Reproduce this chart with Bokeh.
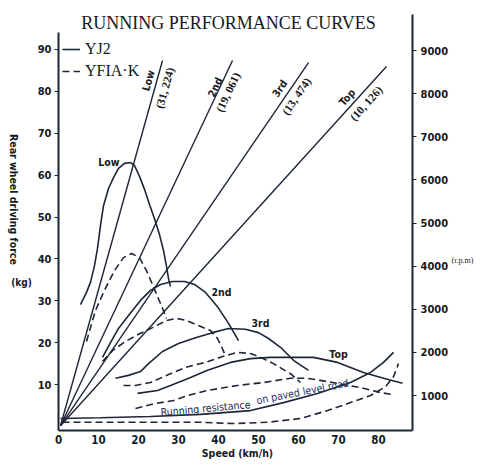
from bokeh.plotting import figure
from bokeh.models import Range1d, LinearAxis, FixedTicker, Label, Legend, LegendItem
from bokeh.embed import file_html
from bokeh.resources import INLINE

# ---------------- data (speed km/h, rear wheel driving force kg) ----------------
yj2_low_speed = [5.5, 7.0, 8.0, 9.0, 9.75, 10.5, 11.25, 12.5, 13.75, 15.0, 16.5, 18.0, 19.0,
                 20.25, 21.5, 22.75, 24.0, 25.25, 26.25, 27.0, 27.5, 28.0]
yj2_low_force = [29.1, 32.0, 34.4, 38.4, 42.5, 48.0, 52.7, 56.8, 59.4, 61.6, 62.8, 63.0, 62.3,
                 59.7, 56.6, 53.0, 49.6, 45.8, 42.0, 38.2, 35.3, 33.4]

yj2_2nd_speed = [11.0, 13.0, 15.0, 17.5, 20.5, 23.0, 25.5, 28.5, 31.5, 34.0, 36.75, 39.75, 42.5, 45.0]
yj2_2nd_force = [16.5, 20.0, 23.4, 26.5, 30.1, 32.5, 33.9, 34.6, 34.6, 33.9, 32.0, 28.6, 24.6, 20.5]

yj2_3rd_speed = [14.25, 17.5, 20.5, 22.5, 26.0, 30.0, 34.25, 38.5, 42.5, 46.75, 50.0, 52.5, 55.5, 58.75, 62.5]
yj2_3rd_force = [11.5, 12.2, 13.1, 15.0, 17.9, 19.8, 21.2, 22.4, 23.4, 23.2, 22.4, 21.0, 18.9, 15.8, 13.4]

yj2_top_speed = [19.75, 24.75, 28.0, 33.0, 37.25, 43.0, 48.0, 53.0, 63.75, 69.75, 76.25, 81.25, 86.0]
yj2_top_force = [7.9, 8.6, 9.8, 11.7, 13.4, 15.3, 16.2, 16.5, 16.5, 15.3, 12.9, 11.5, 10.3]

yj2_res_speed = [0.5, 10.5, 23.0, 35.5, 48.0, 56.25, 64.75, 73.0, 78.0, 81.25, 83.75]
yj2_res_force = [1.9, 2.1, 2.4, 2.9, 3.8, 5.7, 7.9, 10.5, 12.9, 15.3, 17.7]

yfia_low_speed = [7.0, 8.0, 9.25, 11.5, 14.0, 16.25, 18.25, 20.25, 22.0, 23.5, 25.0, 26.0, 27.0]
yfia_low_force = [20.3, 23.6, 27.7, 32.5, 37.2, 40.3, 41.3, 40.3, 37.2, 33.9, 30.5, 28.2, 25.8]

yfia_2nd_speed = [11.0, 13.5, 16.75, 20.0, 23.5, 27.0, 29.5, 32.0, 35.0, 38.0, 39.75, 40.75, 41.5]
yfia_2nd_force = [15.5, 18.1, 20.3, 22.0, 23.6, 25.3, 25.8, 25.3, 24.1, 22.9, 21.0, 19.1, 17.4]

yfia_3rd_speed = [16.25, 19.25, 23.0, 27.5, 31.75, 36.75, 41.0, 44.75, 48.0, 50.5, 53.75, 58.0, 60.5]
yfia_3rd_force = [9.8, 9.8, 10.5, 12.4, 14.1, 15.3, 16.7, 17.7, 17.4, 16.5, 15.0, 12.6, 10.5]

yfia_top_speed = [19.25, 24.25, 28.75, 32.25, 37.25, 44.75, 51.25, 58.0, 62.25, 65.5, 75.5, 80.5, 83.75]
yfia_top_force = [4.3, 5.5, 6.2, 7.4, 8.6, 9.8, 10.5, 11.5, 11.5, 11.0, 9.3, 8.1, 7.6]

yfia_res_speed = [1.0, 10.5, 23.0, 35.5, 43.75, 52.25, 60.5, 67.25, 73.0, 78.0, 81.75, 83.75, 85.0]
yfia_res_force = [1.0, 1.0, 1.0, 1.0, 0.7, 1.0, 1.9, 3.8, 5.7, 7.4, 9.5, 11.9, 15.0]

# engine speed lines (speed km/h -> engine r.p.m) per gear
gear_names = ["Low", "2nd", "3rd", "Top"]
gear_ratios = ["(31, 224)", "(19, 061)", "(13, 474)", "(10, 126)"]
gear_start_speed = [0.5, 0.5, 0.5, 0.5]
gear_start_rpm = [300, 300, 300, 300]
gear_end_speed = [26.0, 43.5, 62.5, 82.0]
gear_end_rpm = [8770, 8770, 8720, 8630]

force_ticks = [10, 20, 30, 40, 50, 60, 70, 80, 90]
rpm_ticks = [1000, 2000, 3000, 4000, 5000, 6000, 7000, 8000, 9000]
speed_ticks = [0, 10, 20, 30, 40, 50, 60, 70, 80]

# ---------------- styling ----------------
INK = "#1d2637"
TXT = "#151a22"
COND = "DejaVu Sans Condensed"
SERIF = "Liberation Serif"
DASH = "7 4"

# the frame covers the whole canvas; axes are pinned at fixed data locations
p = figure(width=475, height=459, x_range=Range1d(-14.5, 104.25), y_range=Range1d(-7.876, 101.671),
           output_backend="svg", toolbar_location=None, min_border=0)
p.extra_y_ranges = {"rpm": Range1d(-484, 10160)}
p.outline_line_color = None
p.xgrid.visible = False
p.ygrid.visible = False
p.background_fill_color = "white"
p.border_fill_color = "white"

SPEED_MAX = 88.5
FORCE_MIN = -0.95

# axes
xa = p.xaxis[0]
xa.fixed_location = FORCE_MIN
xa.bounds = (0, SPEED_MAX)
xa.ticker = FixedTicker(ticks=speed_ticks)
xa.major_tick_out = 0
xa.major_tick_in = 0
xa.minor_tick_out = 0
xa.minor_tick_in = 0
xa.axis_line_width = 2
xa.axis_line_color = INK
xa.major_label_standoff = 5
xa.major_label_text_font = COND
xa.major_label_text_font_style = "bold"
xa.major_label_text_font_size = "11.5px"
xa.major_label_text_color = TXT

ya = p.yaxis[0]
ya.fixed_location = 0
ya.ticker = FixedTicker(ticks=force_ticks)
ya.bounds = (FORCE_MIN, 94)
ya.major_tick_out = 4
ya.major_tick_in = 0
ya.minor_tick_out = 0
ya.minor_tick_in = 0
ya.axis_line_width = 2
ya.axis_line_color = INK
ya.major_tick_line_color = INK
ya.major_label_standoff = 3
ya.major_label_text_font = COND
ya.major_label_text_font_style = "bold"
ya.major_label_text_font_size = "11px"
ya.major_label_text_color = TXT

ra = LinearAxis(y_range_name="rpm", ticker=FixedTicker(ticks=rpm_ticks), fixed_location=SPEED_MAX)
ra.bounds = (188, 9835)
ra.major_tick_out = 4
ra.major_tick_in = 0
ra.minor_tick_out = 0
ra.minor_tick_in = 0
ra.axis_line_width = 2
ra.axis_line_color = INK
ra.major_tick_line_color = INK
ra.major_label_standoff = 4
ra.major_label_text_font = COND
ra.major_label_text_font_style = "bold"
ra.major_label_text_font_size = "11px"
ra.major_label_text_color = TXT
p.add_layout(ra, "right")

# engine speed lines
for i in range(len(gear_names)):
    p.line([gear_start_speed[i], gear_end_speed[i]], [gear_start_rpm[i], gear_end_rpm[i]],
           y_range_name="rpm", line_color=INK, line_width=1.4)

# YJ2 (solid)
solid = dict(line_color=INK, line_width=1.6)
r_yj2 = p.line(yj2_low_speed, yj2_low_force, **solid)
p.line(yj2_2nd_speed, yj2_2nd_force, **solid)
p.line(yj2_3rd_speed, yj2_3rd_force, **solid)
p.line(yj2_top_speed, yj2_top_force, **solid)
p.line(yj2_res_speed, yj2_res_force, **solid)

# YFIA-K (dashed)
dashed = dict(line_color=INK, line_width=1.6, line_dash=DASH)
r_yfia = p.line(yfia_low_speed, yfia_low_force, **dashed)
p.line(yfia_2nd_speed, yfia_2nd_force, **dashed)
p.line(yfia_3rd_speed, yfia_3rd_force, **dashed)
p.line(yfia_top_speed, yfia_top_force, **dashed)
p.line(yfia_res_speed, yfia_res_force, **dashed)

legend = Legend(items=[LegendItem(label="YJ2", renderers=[r_yj2]),
                       LegendItem(label="YFIA·K", renderers=[r_yfia])],
                location=(62, 378), glyph_width=18, glyph_height=20, label_height=20,
                spacing=2, padding=0, margin=0, border_line_color=None,
                background_fill_alpha=0, label_standoff=5,
                label_text_font=SERIF, label_text_font_size="16px", label_text_color=TXT)
p.add_layout(legend)


def lab(x, y, text, size="10.5px", font=COND, style="bold", angle=0, color=TXT,
        align="center", baseline="middle"):
    p.add_layout(Label(x=x, y=y, text=text, text_font=font, text_font_size=size,
                       text_font_style=style, angle=angle, angle_units="deg",
                       text_align=align, text_baseline=baseline, text_color=color))


# title
lab(42.5, 96.2, "RUNNING PERFORMANCE CURVES", size="18px", font=SERIF, style="normal",
    baseline="alphabetic")

# curve labels
lab(12.6, 63.2, "Low")
lab(40.75, 32.2, "2nd")
lab(50.5, 24.6, "3rd")
lab(70.0, 17.2, "Top")

# gear line labels (name left of line, ratio right of line)
gear_name_pos = [(22.4, 82.6), (39.1, 81.0), (55.25, 80.7), (72.1, 78.6)]
gear_ratio_pos = [(26.6, 80.8), (42.4, 79.8), (59.5, 78.8), (76.9, 77.1)]
gear_angles = [74.4, 64.8, 55.6, 47.8]
for i in range(4):
    lab(gear_name_pos[i][0], gear_name_pos[i][1], gear_names[i], size="10.5px", angle=gear_angles[i])
    lab(gear_ratio_pos[i][0], gear_ratio_pos[i][1], gear_ratios[i], size="11.5px", font=SERIF,
        angle=gear_angles[i])

# running resistance label
lab(36.75, 4.4, "Running resistance", size="10.5px", style="normal", angle=5, color="#1c2440")
lab(61.0, 8.4, "on paved level road", size="10.5px", style="normal", angle=11, color="#22306a")

# axis titles
lab(-11.25, 54.2, "Rear wheel driving force", size="10.5px", angle=-90)
lab(-9.25, 34.4, "(kg)", size="10px")
lab(101.0, 39.6, "(r.p.m)", size="8px", style="normal", font=SERIF)
lab(44.75, -6.3, "Speed (km/h)", size="10.5px")

open("out.html", "w").write(file_html(p, INLINE))
